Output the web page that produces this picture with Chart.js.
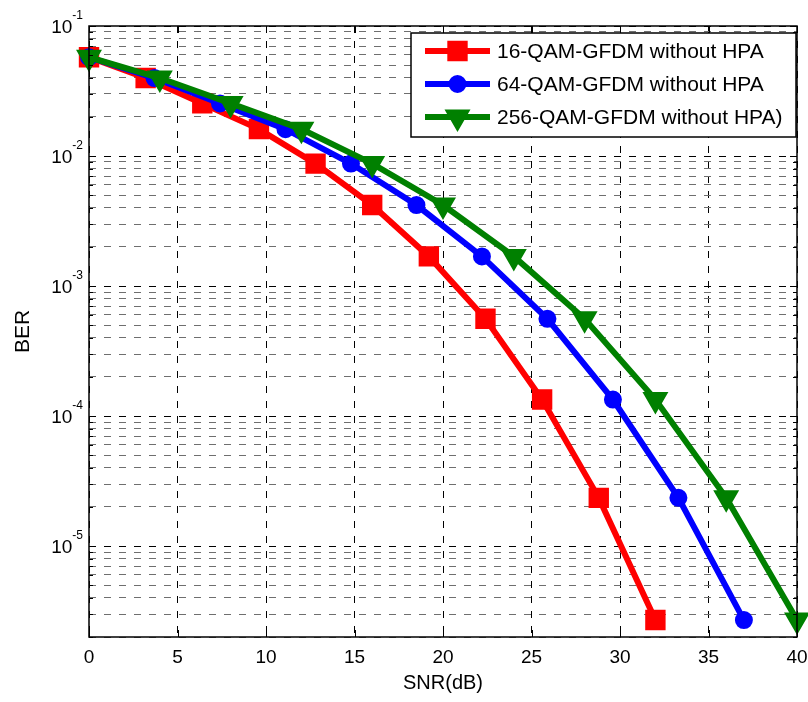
<!DOCTYPE html>
<html lang="en">
<head>
<meta charset="UTF-8">
<title>BER vs SNR - GFDM</title>
<script src="https://cdn.jsdelivr.net/npm/chart.js"></script>
<style>
  html, body { margin: 0; padding: 0; background: #fff; }
  #berChart { display: block; }
</style>
</head>
<body>
<canvas id="berChart" width="808" height="702"></canvas>
<script>
// series names as shown in the legend
var seriesNames = ['16-QAM-GFDM without HPA', '64-QAM-GFDM without HPA', '256-QAM-GFDM without HPA)'];

// SNR (dB) of each simulated point
var snr16  = [0, 3.2, 6.4, 9.6, 12.8, 16, 19.2, 22.4, 25.6, 28.8, 32];
var snr64  = [0, 3.7, 7.4, 11.1, 14.8, 18.5, 22.2, 25.9, 29.6, 33.3, 37];
var snr256 = [0, 4, 8, 12, 16, 20, 24, 28, 32, 36, 40];

// bit error rate
var ber16  = [0.0575, 0.0398, 0.0254, 0.0161, 0.00875, 0.0042, 0.00169, 5.6e-4, 1.34e-4, 2.35e-5, 2.7e-6];
var ber64  = [0.0575, 0.0398, 0.0254, 0.0161, 0.00875, 0.0042, 0.00169, 5.6e-4, 1.34e-4, 2.35e-5, 2.7e-6];
var ber256 = [0.0575, 0.0398, 0.0254, 0.0161, 0.00875, 0.0042, 0.00169, 5.6e-4, 1.34e-4, 2.35e-5, 2.7e-6];

// axes
var xTicks = [0, 5, 10, 15, 20, 25, 30, 35, 40];
var yDecadeExp = [-1, -2, -3, -4, -5];
var yMin = 2e-6, yMax = 0.1;

var colors = ['#ff0000', '#0000ff', '#008000'];

function pts(xs, ys) {
    return xs.map(function (x, i) { return { x: x, y: ys[i] }; });
}

function isDecade(v) {
    var l = Math.log10(v);
    return Math.abs(l - Math.round(l)) < 1e-9;
}

// log grid: every 1..9 multiple inside the range
function logGridValues() {
    var out = [];
    for (var e = -6; e <= -1; e++) {
        for (var m = 1; m <= 9; m++) {
            var v = parseFloat((m * Math.pow(10, e)).toPrecision(6));
            if (v >= yMin - 1e-12 && v <= yMax + 1e-12) out.push(v);
        }
    }
    return out;
}

Chart.defaults.font.family = '"Liberation Sans", Arial, sans-serif';
Chart.defaults.color = '#000';

// frame, inward ticks, y labels with exponent, legend box
var matlabStyle = {
    id: 'matlabStyle',
    afterDraw: function (chart) {
        var ctx = chart.ctx;
        var a = chart.chartArea;
        var xs = chart.scales.x, ys = chart.scales.y;
        ctx.save();

        // inward tick marks on all four sides
        ctx.strokeStyle = '#000';
        ctx.lineWidth = 1;
        ctx.beginPath();
        xTicks.forEach(function (t) {
            var px = Math.round(xs.getPixelForValue(t)) + 0.5;
            ctx.moveTo(px, a.bottom); ctx.lineTo(px, a.bottom - 7);
            ctx.moveTo(px, a.top); ctx.lineTo(px, a.top + 7);
        });
        logGridValues().forEach(function (v) {
            var py = Math.round(ys.getPixelForValue(v)) + 0.5;
            var len = isDecade(v) ? 7 : 4;
            ctx.moveTo(a.left, py); ctx.lineTo(a.left + len, py);
            ctx.moveTo(a.right, py); ctx.lineTo(a.right - len, py);
        });
        ctx.stroke();

        // box around the plot
        ctx.lineWidth = 1.5;
        ctx.strokeRect(a.left, a.top, a.right - a.left, a.bottom - a.top);

        // y tick labels 10^n
        ctx.fillStyle = '#000';
        ctx.textBaseline = 'alphabetic';
        yDecadeExp.forEach(function (e) {
            var py = ys.getPixelForValue(Math.pow(10, e));
            var expTxt = String(e);
            ctx.font = '12px "Liberation Sans", Arial, sans-serif';
            var wExp = ctx.measureText(expTxt).width;
            var right = a.left - 6;
            ctx.textAlign = 'left';
            ctx.fillText(expTxt, right - wExp, py - 7);
            ctx.font = '19px "Liberation Sans", Arial, sans-serif';
            ctx.textAlign = 'right';
            ctx.fillText('10', right - wExp, py + 7);
        });

        // legend
        var lx = 411, ly = 33, lw = 385, lh = 104;
        ctx.fillStyle = '#fff';
        ctx.fillRect(lx, ly, lw, lh);
        ctx.strokeStyle = '#000';
        ctx.lineWidth = 1.5;
        ctx.strokeRect(lx, ly, lw, lh);
        chart.data.datasets.forEach(function (ds, i) {
            var cy = 51 + i * 33;
            ctx.strokeStyle = ds.borderColor;
            ctx.lineWidth = ds.borderWidth;
            ctx.beginPath();
            ctx.moveTo(425, cy); ctx.lineTo(490, cy);
            ctx.stroke();
            ctx.fillStyle = ds.pointBackgroundColor;
            ctx.strokeStyle = ds.pointBorderColor;
            ctx.lineWidth = ds.pointBorderWidth;
            Chart.helpers.drawPoint(ctx, {
                pointStyle: ds.pointStyle,
                radius: ds.pointRadius,
                rotation: ds.pointRotation || 0,
                borderWidth: ds.pointBorderWidth
            }, 457.5, cy);
            ctx.fillStyle = '#000';
            ctx.font = '21px "Liberation Sans", Arial, sans-serif';
            ctx.textAlign = 'left';
            ctx.textBaseline = 'middle';
            ctx.fillText(ds.label, 497, cy + 1);
        });
        ctx.restore();
    }
};

function makeSet(i, xs, ys, style, radius, rotation) {
    return {
        label: seriesNames[i],
        data: pts(xs, ys),
        borderColor: colors[i],
        backgroundColor: colors[i],
        borderWidth: 6,
        pointStyle: style,
        pointRadius: radius,
        pointHoverRadius: radius,
        pointRotation: rotation,
        pointBackgroundColor: colors[i],
        pointBorderColor: colors[i],
        pointBorderWidth: 2,
        tension: 0,
        fill: false,
        clip: false,
        order: 3 - i
    };
}

new Chart(document.getElementById('berChart'), {
    type: 'line',
    data: {
        datasets: [
            makeSet(0, snr16, ber16, 'rect', 13, 0),
            makeSet(1, snr64, ber64, 'circle', 8, 0),
            makeSet(2, snr256, ber256, 'triangle', 13, 180)
        ]
    },
    options: {
        responsive: false,
        animation: false,
        events: [],
        layout: {
            autoPadding: false,
            padding: { top: 26, right: 11, left: 0, bottom: 0 }
        },
        plugins: {
            legend: { display: false },
            tooltip: { enabled: false }
        },
        scales: {
            x: {
                type: 'linear',
                min: 0,
                max: 40,
                afterBuildTicks: function (s) {
                    s.ticks = xTicks.map(function (v) { return { value: v }; });
                },
                afterFit: function (s) {
                    s.height = 65;
                    s.paddingLeft = 0;
                    s.paddingRight = 0;
                },
                ticks: {
                    font: { size: 19 },
                    color: '#000',
                    padding: 9,
                    maxRotation: 0
                },
                grid: {
                    color: '#000',
                    lineWidth: 1,
                    drawTicks: false
                },
                border: { display: false, dash: [7, 8] },
                title: {
                    display: true,
                    text: 'SNR(dB)',
                    font: { size: 20 },
                    color: '#000',
                    padding: { top: 0, bottom: 7 }
                }
            },
            y: {
                type: 'logarithmic',
                min: yMin,
                max: yMax,
                afterBuildTicks: function (s) {
                    s.ticks = logGridValues().map(function (v) { return { value: v }; });
                },
                afterFit: function (s) {
                    s.width = 89;
                    s.paddingTop = 0;
                    s.paddingBottom = 0;
                },
                ticks: { display: false },
                grid: {
                    color: function (c) {
                        return c.tick && isDecade(c.tick.value) ? '#000' : '#6e6e6e';
                    },
                    lineWidth: 1,
                    drawTicks: false
                },
                border: { display: false, dash: [7, 8] },
                title: {
                    display: true,
                    text: 'BER',
                    font: { size: 21 },
                    color: '#000',
                    padding: { top: 11, bottom: 0 }
                }
            }
        }
    },
    plugins: [matlabStyle]
});
</script>
</body>
</html>
